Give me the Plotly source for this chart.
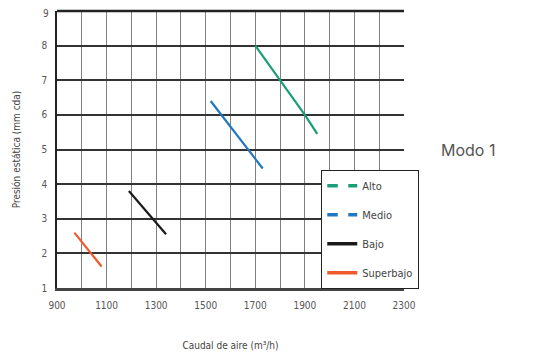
import plotly.graph_objects as go

# Curvas de presión estática vs caudal (Modo 1)
alto_x = [1700, 1800, 1900, 1950]
alto_y = [8.0, 7.0, 6.0, 5.45]
medio_x = [1520, 1730]
medio_y = [6.4, 4.45]
bajo_x = [1190, 1340]
bajo_y = [3.8, 2.55]
superbajo_x = [970, 1080]
superbajo_y = [2.6, 1.62]

x_ticks = [900, 1100, 1300, 1500, 1700, 1900, 2100, 2300]
y_ticks = [1, 2, 3, 4, 5, 6, 7, 8, 9]

narrow = "Liberation Sans Narrow, DejaVu Sans Condensed, Liberation Sans, sans-serif"
tick_font = dict(family=narrow, size=10, color="#555")

fig = go.Figure()
series = [
    ("Alto", alto_x, alto_y, "#1a9e78", "dash"),
    ("Medio", medio_x, medio_y, "#1f78c0", "dash"),
    ("Bajo", bajo_x, bajo_y, "#1a1a1a", "solid"),
    ("Superbajo", superbajo_x, superbajo_y, "#ee5a2c", "solid"),
]
for name, xs, ys, color, dash in series:
    # curve itself is solid
    fig.add_trace(go.Scatter(x=xs, y=ys, mode="lines", name=name, showlegend=False,
                             legendgroup=name, line=dict(color=color, width=2.2)))
    # legend swatch (dashed for Alto/Medio as in the original)
    fig.add_trace(go.Scatter(x=[None], y=[None], mode="lines", name=name,
                             legendgroup=name, line=dict(color=color, width=3.5, dash=dash)))

fig.update_xaxes(
    range=[900, 2300], tickvals=x_ticks, tickfont=tick_font, automargin=False,
    ticklabeloverflow="allow", ticklabelstandoff=6,
    showgrid=True, gridcolor="#808080", gridwidth=1.3,
    minor=dict(dtick=100, showgrid=True, gridcolor="#808080", gridwidth=1.3),
    showline=True, linecolor="#444", linewidth=3,
    zeroline=False, ticks="",
    title=dict(text="Caudal de aire (m³/h)", font=dict(family=narrow, size=10, color="#444"), standoff=32),
)
# top label drawn separately (nudged down so it is not clipped by the page edge)
fig.update_yaxes(
    range=[1, 9], tickvals=y_ticks[:-1], tickfont=tick_font, automargin=False,
    ticklabeloverflow="allow", ticklabelstandoff=6,
    showgrid=True, gridcolor="#333", gridwidth=1.5,
    showline=True, linecolor="#222", linewidth=1.5,
    zeroline=False, ticks="",
    title=dict(text="Presión estática (mm cda)", font=dict(family=narrow, size=10, color="#444"), standoff=19),
)
fig.add_annotation(text=str(y_ticks[-1]), xref="paper", yref="y", x=0, y=y_ticks[-1],
                   xanchor="right", yanchor="middle", xshift=-6, yshift=-2,
                   showarrow=False, font=tick_font)

# Top border
fig.add_shape(type="line", xref="paper", yref="paper", x0=0, x1=1, y0=1, y1=1,
              line=dict(color="#222", width=2.5))

fig.add_annotation(text="Modo 1", xref="paper", yref="paper", x=1.1, y=0.5,
                   xanchor="left", yanchor="middle", showarrow=False,
                   font=dict(family="Inter, Noto Sans, sans-serif", size=16, color="#555"))

fig.update_layout(
    width=553, height=360,
    margin=dict(l=49, r=157, t=3, b=80),
    plot_bgcolor="white", paper_bgcolor="white",
    legend=dict(x=0.761, y=0.426, xanchor="left", yanchor="top",
                bgcolor="white", bordercolor="#222", borderwidth=1.2,
                font=dict(family=narrow, size=11, color="#444"),
                tracegroupgap=10, itemwidth=30),
    showlegend=True,
)

fig.write_html("out.html")
